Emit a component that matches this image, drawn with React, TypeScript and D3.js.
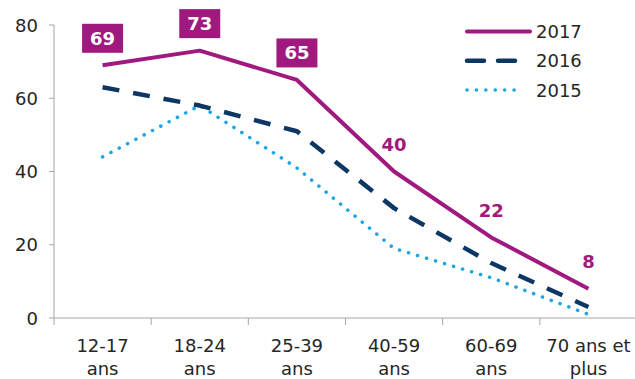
import React from "react";
import * as d3 from "d3";

const categories = ["12-17|ans", "18-24|ans", "25-39|ans", "40-59|ans", "60-69|ans", "70 ans et|plus"];
const values2017 = [69, 73, 65, 40, 22, 8];
const values2016 = [63, 58, 51, 30, 15, 3];
const values2015 = [44, 58, 41, 19, 11, 1];
const yTicks = [0, 20, 40, 60, 80];
const boxedLabels = [true, true, true, false, false, false];

const W = 635;
const H = 379;
const FONT = "'DejaVu Sans', Verdana, sans-serif";
const C2017 = "#A0197E";
const C2016 = "#0C3765";
const C2015 = "#1AA5E6";
const AXIS = "#A6A6A6";

export default function App() {
  const x = d3.scaleBand<number>().domain(d3.range(categories.length)).range([54, 637]).padding(0);
  const y = d3.scaleLinear().domain([0, 80]).range([318, 25]);
  const cx = (i: number) => (x(i) as number) + x.bandwidth() / 2;
  const line = d3
    .line<number>()
    .x((_, i) => cx(i))
    .y((d) => y(d));

  const series = [
    { name: "2017", values: values2017, color: C2017, width: 4, dash: undefined as string | undefined, cap: "butt", legEnd: 530 },
    { name: "2016", values: values2016, color: C2016, width: 4.5, dash: "17,14", cap: "butt", legEnd: 515 },
    { name: "2015", values: values2015, color: C2015, width: 3.5, dash: "0.1,9.3", cap: "round", legEnd: 523 },
  ];
  const drawOrder = [series[2], series[1], series[0]];

  return (
    <svg width={W} height={H} style={{ position: "absolute", left: 0, top: 0, background: "#fff" }} fontFamily={FONT}>
      {/* y axis */}
      <line x1={54} x2={54} y1={y(80)} y2={y(0)} stroke={AXIS} strokeWidth={1} />
      {yTicks.map((t) => (
        <g key={t}>
          <line x1={49} x2={54} y1={y(t)} y2={y(t)} stroke={AXIS} />
          <text x={38} y={y(t)} textAnchor="end" dominantBaseline="central" fontSize={18} fill="#262626">
            {t}
          </text>
        </g>
      ))}
      {/* x axis */}
      <line x1={54} x2={637} y1={y(0)} y2={y(0)} stroke={AXIS} strokeWidth={1} />
      {categories.map((c, i) => (
        <line key={"t" + i} x1={x(i) as number} x2={x(i) as number} y1={y(0)} y2={y(0) + 7} stroke={AXIS} />
      ))}
      {categories.map((c, i) => {
        const parts = c.split("|");
        return (
          <text key={"l" + i} x={cx(i)} textAnchor="middle" fontSize={18} fill="#262626">
            <tspan x={cx(i)} y={345} dominantBaseline="central">{parts[0]}</tspan>
            <tspan x={cx(i)} y={368} dominantBaseline="central">{parts[1]}</tspan>
          </text>
        );
      })}
      {/* lines */}
      {drawOrder.map((s) => (
        <path
          key={s.name}
          d={line(s.values) || ""}
          fill="none"
          stroke={s.color}
          strokeWidth={s.width}
          strokeDasharray={s.dash}
          strokeLinecap={s.cap as any}
          strokeLinejoin="round"
        />
      ))}
      {/* data labels */}
      {values2017.map((v, i) => {
        const px = cx(i);
        const py = y(v) - 27;
        return (
          <g key={"d" + i}>
            {boxedLabels[i] && <rect x={px - 20.5} y={py - 14.5} width={41} height={29} fill={C2017} />}
            <text
              x={px}
              y={py}
              textAnchor="middle"
              dominantBaseline="central"
              fontSize={18}
              fontWeight="bold"
              fill={boxedLabels[i] ? "#fff" : C2017}
            >
              {v}
            </text>
          </g>
        );
      })}
      {/* legend */}
      {series.map((s, i) => {
        const ly = 31.5 + i * 29.3;
        return (
          <g key={"lg" + s.name}>
            <line
              x1={467}
              x2={s.legEnd}
              y1={ly}
              y2={ly}
              stroke={s.color}
              strokeWidth={s.width}
              strokeDasharray={s.dash}
              strokeLinecap="round"
            />
            <text x={536} y={ly} dominantBaseline="central" fontSize={18} fill="#262626">
              {s.name}
            </text>
          </g>
        );
      })}
    </svg>
  );
}
